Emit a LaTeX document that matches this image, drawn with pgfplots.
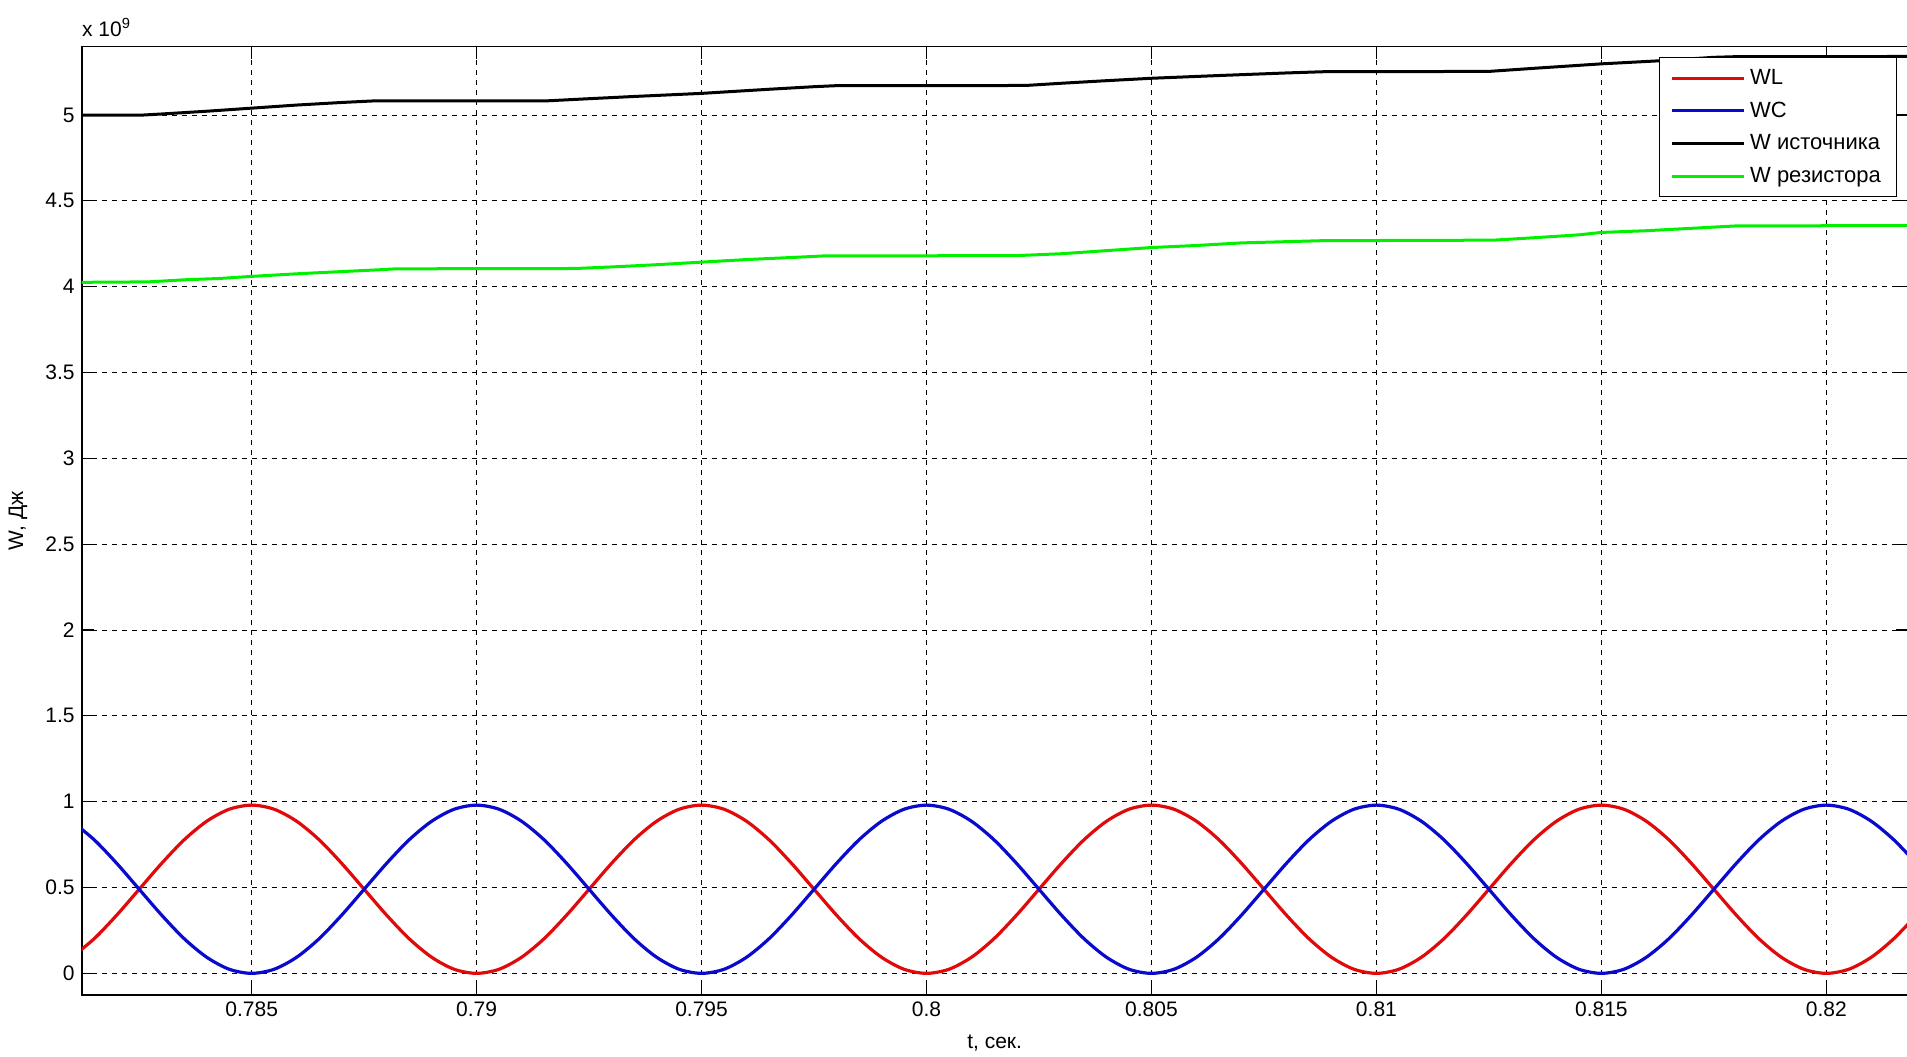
\documentclass[border=0pt]{standalone}
\usepackage{fontspec}
\setmainfont{Liberation Sans}
\usepackage{pgfplots}
\usepackage{pgfplotstable}
\pgfplotsset{compat=1.18}
\definecolor{mred}{RGB}{225,10,10}
\definecolor{mblue}{RGB}{10,10,205}
\definecolor{mgreen}{RGB}{0,240,0}
\newcommand{\fs}{\fontsize{10.5}{12.6}\selectfont}
\newcommand{\fl}{\fontsize{11}{13.2}\selectfont}
\pgfplotstableread{
t WL WC
0.7810 0.094 0.886
0.7815 0.202 0.778
0.7820 0.339 0.641
0.7825 0.490 0.490
0.7830 0.641 0.339
0.7835 0.778 0.202
0.7840 0.886 0.094
0.7845 0.956 0.024
0.7850 0.980 0.000
0.7855 0.956 0.024
0.7860 0.886 0.094
0.7865 0.778 0.202
0.7870 0.641 0.339
0.7875 0.490 0.490
0.7880 0.339 0.641
0.7885 0.202 0.778
0.7890 0.094 0.886
0.7895 0.024 0.956
0.7900 0.000 0.980
0.7905 0.024 0.956
0.7910 0.094 0.886
0.7915 0.202 0.778
0.7920 0.339 0.641
0.7925 0.490 0.490
0.7930 0.641 0.339
0.7935 0.778 0.202
0.7940 0.886 0.094
0.7945 0.956 0.024
0.7950 0.980 0.000
0.7955 0.956 0.024
0.7960 0.886 0.094
0.7965 0.778 0.202
0.7970 0.641 0.339
0.7975 0.490 0.490
0.7980 0.339 0.641
0.7985 0.202 0.778
0.7990 0.094 0.886
0.7995 0.024 0.956
0.8000 0.000 0.980
0.8005 0.024 0.956
0.8010 0.094 0.886
0.8015 0.202 0.778
0.8020 0.339 0.641
0.8025 0.490 0.490
0.8030 0.641 0.339
0.8035 0.778 0.202
0.8040 0.886 0.094
0.8045 0.956 0.024
0.8050 0.980 0.000
0.8055 0.956 0.024
0.8060 0.886 0.094
0.8065 0.778 0.202
0.8070 0.641 0.339
0.8075 0.490 0.490
0.8080 0.339 0.641
0.8085 0.202 0.778
0.8090 0.094 0.886
0.8095 0.024 0.956
0.8100 0.000 0.980
0.8105 0.024 0.956
0.8110 0.094 0.886
0.8115 0.202 0.778
0.8120 0.339 0.641
0.8125 0.490 0.490
0.8130 0.641 0.339
0.8135 0.778 0.202
0.8140 0.886 0.094
0.8145 0.956 0.024
0.8150 0.980 0.000
0.8155 0.956 0.024
0.8160 0.886 0.094
0.8165 0.778 0.202
0.8170 0.641 0.339
0.8175 0.490 0.490
0.8180 0.339 0.641
0.8185 0.202 0.778
0.8190 0.094 0.886
0.8195 0.024 0.956
0.8200 0.000 0.980
0.8205 0.024 0.956
0.8210 0.094 0.886
0.8215 0.202 0.778
0.8220 0.339 0.641
}\wlc
\pgfplotstableread{
t W
0.7810 5.000
0.7826 5.000
0.7830 5.006
0.7840 5.022
0.7850 5.040
0.7860 5.058
0.7870 5.073
0.7877 5.082
0.7916 5.083
0.7925 5.095
0.7935 5.108
0.7950 5.126
0.7965 5.150
0.7975 5.165
0.7980 5.171
0.8022 5.172
0.8030 5.185
0.8040 5.200
0.8050 5.214
0.8065 5.230
0.8080 5.245
0.8088 5.252
0.8125 5.254
0.8135 5.272
0.8150 5.298
0.8163 5.316
0.8175 5.336
0.8180 5.340
0.8220 5.341
}\wsrc
\pgfplotstableread{
t W
0.7810 4.025
0.7827 4.028
0.7835 4.040
0.7843 4.048
0.7850 4.060
0.7860 4.075
0.7870 4.088
0.7878 4.098
0.7882 4.104
0.7922 4.106
0.7930 4.115
0.7940 4.128
0.7950 4.143
0.7960 4.158
0.7970 4.170
0.7977 4.179
0.8020 4.181
0.8030 4.192
0.8040 4.210
0.8050 4.228
0.8060 4.240
0.8070 4.255
0.8088 4.268
0.8126 4.271
0.8135 4.285
0.8145 4.302
0.8150 4.316
0.8160 4.326
0.8170 4.340
0.8180 4.354
0.8220 4.356
}\wres
\begin{document}
\begin{tikzpicture}
\begin{axis}[
  name=ax,
  scale only axis,
  width=912.9pt, height=474.15pt,
  xmin=0.781222, xmax=0.821807,
  ymin=-0.1264, ymax=5.398,
  xtick={0.785,0.79,0.795,0.8,0.805,0.81,0.815,0.82},
  xticklabels={0.785,0.79,0.795,0.8,0.805,0.81,0.815,0.82},
  ytick={0,0.5,1,1.5,2,2.5,3,3.5,4,4.5,5},
  yticklabels={0,0.5,1,1.5,2,2.5,3,3.5,4,4.5,5},
  tick label style={font=\fs},
  tick align=inside,
  major tick length=6pt,
  tick style={black, line width=0.6pt},
  axis line style={black, line width=0.8pt},
  grid=major,
  major grid style={black, line width=0.5pt, dash pattern=on 2.5pt off 2.5pt},
  xlabel={t, сек.},
  ylabel={W, Дж},
  label style={font=\fs},
  xlabel style={at={(axis description cs:0.5,-0.0506)}, anchor=center},
  ylabel style={at={(axis description cs:-0.0349,0.5)}, anchor=center},
  clip mode=individual,
  legend cell align=left,
  legend style={at={(axis description cs:0.99425,0.98914)}, anchor=north east,
    draw=black, line width=0.6pt, font=\fl, inner xsep=5.5pt, inner ysep=4.2pt,
    row sep=4pt,
    nodes={inner xsep=2.3pt, inner ysep=1.6pt}},
  legend image code/.code={\draw[#1, line width=1.5pt] (0pt,0pt) -- (36pt,0pt);},
]
\addplot[mred, line width=1.6pt, smooth] table[x=t, y=WL] {\wlc};
\addlegendentry{WL}
\addplot[mblue, line width=1.6pt, smooth] table[x=t, y=WC] {\wlc};
\addlegendentry{WC}
\addplot[black, line width=1.5pt] table[x=t, y=W] {\wsrc};
\addlegendentry{W источника}
\addplot[mgreen, line width=1.5pt] table[x=t, y=W] {\wres};
\addlegendentry{W резистора}
\node[anchor=south west, font=\fs, inner sep=0pt] at ([yshift=5pt]rel axis cs:0,1) {x 10\textsuperscript{9}};
\end{axis}
\pgfresetboundingbox
\useasboundingbox ([shift={(-40.85pt,-30.5pt)}]ax.south west) rectangle ([shift={(-0.3pt,23.35pt)}]ax.north east);
\end{tikzpicture}
\end{document}
